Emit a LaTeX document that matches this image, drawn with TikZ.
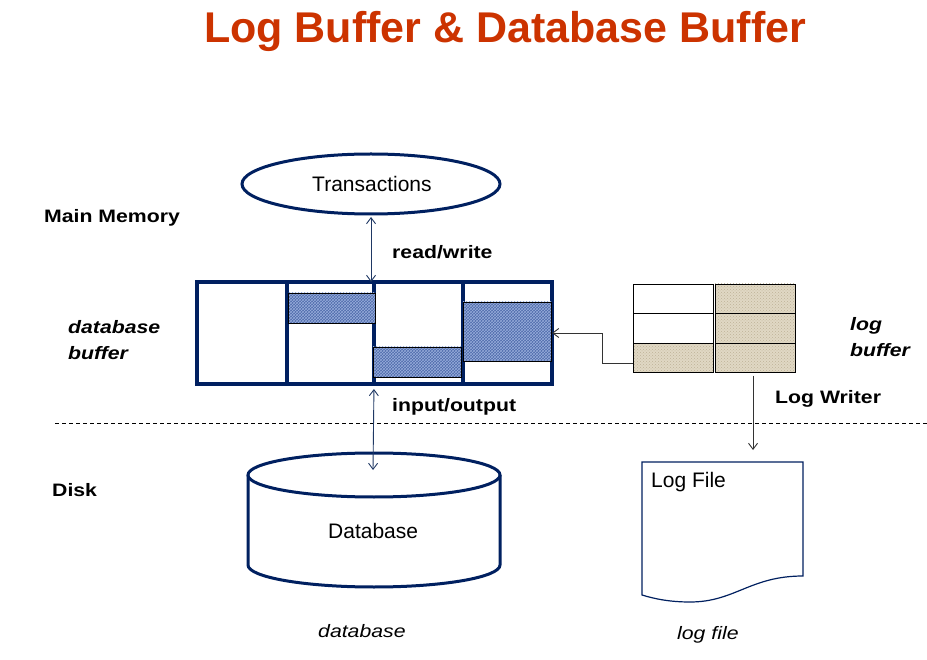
\documentclass[tikz,border=0pt]{standalone}
\usepackage{fontspec}
\setmainfont{Liberation Sans}
\newfontfamily\lblfont{Liberation Sans}[FakeStretch=1.18]
\usetikzlibrary{shapes.geometric,arrows.meta,patterns}
\definecolor{navy}{RGB}{0,32,96}
\definecolor{arrnavy}{RGB}{31,56,100}
\definecolor{titlered}{RGB}{204,51,0}
\definecolor{texblue}{RGB}{78,106,170}
\definecolor{texbluelight}{RGB}{150,172,218}
\definecolor{texbeige}{RGB}{224,216,196}
\definecolor{texbeigedark}{RGB}{190,178,152}
\tikzset{
  x=1pt, y=-1pt,
  lbl/.style={anchor=base west, inner sep=0pt, font=\lblfont\fontsize{18}{22}\selectfont\bfseries},
  lblit/.style={anchor=base west, inner sep=0pt, font=\lblfont\fontsize{18}{22}\selectfont\bfseries\itshape},
  lblplain/.style={anchor=base west, inner sep=0pt, font=\lblfont\fontsize{18}{22}\selectfont\itshape},
  bigtxt/.style={anchor=base west, inner sep=0pt, font=\fontsize{21}{25}\selectfont},
  bufbox/.style={draw=navy, line width=3.5pt, anchor=north west, inner sep=0pt, outer sep=0pt, minimum height=102pt},
  bluetex/.style={anchor=north west, inner sep=0pt, outer sep=0pt, draw=black, line width=0.8pt,
    preaction={fill=texblue}, pattern=crosshatch, pattern color=texbluelight},
  logcell/.style={anchor=north west, inner sep=0pt, outer sep=0pt, draw=black, line width=0.8pt,
    minimum width=80pt},
  beigetex/.style={logcell, preaction={fill=texbeige}, pattern=crosshatch dots, pattern color=texbeigedark},
  dbl/.style={arrnavy, line width=0.9pt, {Straight Barb[length=6pt,width=9pt]}-{Straight Barb[length=6pt,width=9pt]}},
  conn/.style={black!80, line width=0.9pt, -{Straight Barb[length=6pt,width=9pt]}},
}
\begin{document}
\begin{tikzpicture}
\useasboundingbox[fill=white] (0,0) rectangle (927,660);

% title
\node[anchor=base west, inner sep=0pt, text=titlered, font=\fontsize{43}{50}\selectfont\bfseries] (title) at (204,43) {Log Buffer \& Database Buffer};

% transactions
\node[ellipse, draw=navy, line width=3pt, minimum width=258pt, minimum height=60pt, inner sep=0pt] (trans) at (371,184) {};
\node[bigtxt] (transtxt) at (312,192) {Transactions};

% labels
\node[lbl] (mainmem) at (44,223) {Main Memory};
\node[lbl] (rw) at (392,259) {read/write};
\node[lblit] (dbbuf1) at (68,334) {database};
\node[lblit] (dbbuf2) at (68,360) {buffer};
\node[lblit] (lbuf1) at (850,331) {log};
\node[lblit] (lbuf2) at (850,357) {buffer};
\node[lbl] (io) at (392,412) {input/output};
\node[lbl] (lw) at (775,404) {Log Writer};
\node[lbl] (disk) at (52,496) {Disk};
\node[lblplain] (dbcap) at (318,637) {database};
\node[lblplain] (lfcap) at (677,639) {log file};

% database buffer
\node[bufbox, minimum width=90pt] (b1) at (197,282) {};
\node[bufbox, minimum width=87pt] (b2) at (287,282) {};
\node[bufbox, minimum width=89pt] (b3) at (374,282) {};
\node[bufbox, minimum width=89pt] (b4) at (463,282) {};
\node[bluetex, minimum width=87pt, minimum height=30pt] (t2) at (288,293) {};
\node[bluetex, minimum width=88pt, minimum height=30pt] (t3) at (373,347) {};
\node[bluetex, minimum width=88pt, minimum height=59pt] (t4) at (463,302) {};

% log buffer
\node[logcell, minimum height=29pt] (l11) at (633,284) {};
\node[logcell, minimum height=30pt] (l21) at (633,313) {};
\node[beigetex, minimum height=29pt] (l31) at (633,343) {};
\node[beigetex, minimum height=29pt] (l12) at (715,284) {};
\node[beigetex, minimum height=30pt] (l22) at (715,313) {};
\node[beigetex, minimum height=29pt] (l32) at (715,343) {};

% dashed separator
\coordinate (dl) at (55,423);
\coordinate (dr) at (927,423);
\draw[black, line width=0.9pt, dash pattern=on 4pt off 3pt] (dl) -- (dr);

% database cylinder
\draw[navy, line width=3pt, fill=white] (248,475) -- (248,565) arc[start angle=180, end angle=360, x radius=126pt, y radius=22pt] -- (500,475);
\draw[navy, line width=3pt, fill=white] (374,475) ellipse [x radius=126pt, y radius=22pt];
\node[bigtxt] (db) at (328,538) {Database};

% log file document
\draw[navy, line width=1.2pt] (642,462) -- (803,462) -- (803,576)
  .. controls (750,576) and (735,602) .. (690,602)
  .. controls (670,602) and (655,599) .. (642,595) -- cycle;
\node[bigtxt] (lf) at (651,487) {Log File};

% connectors
\coordinate (dbtop) at (373,470);
\coordinate (lwend) at (753,450);
\draw[dbl, shorten <=1.5pt] (trans.south) -- (trans.south |- b2.north east);
\draw[dbl, shorten <=5pt] (b2.south east) -- (dbtop);
\draw[conn] ([yshift=-6pt]l31.west) -- ++(-31,0) |- (b4.east);
\draw[conn, shorten <=4pt] (l32.south -| lwend) -- (lwend);
\end{tikzpicture}
\end{document}
